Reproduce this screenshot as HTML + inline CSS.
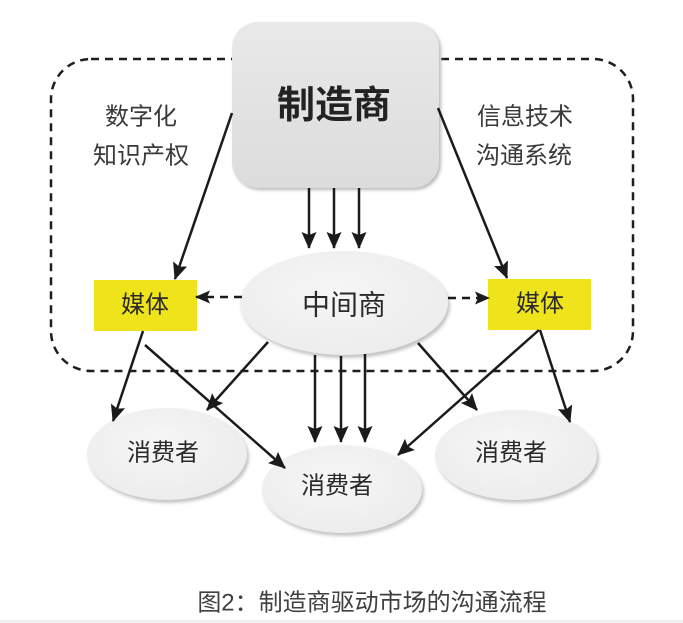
<!DOCTYPE html>
<html>
<head>
<meta charset="utf-8">
<style>
  html,body{margin:0;padding:0;background:#fff;}
  body{width:683px;height:623px;overflow:hidden;}
  svg{display:block;}
  text{font-family:"Liberation Sans","Noto Sans CJK SC",sans-serif;}
</style>
</head>
<body>
<svg width="683" height="623" viewBox="0 0 683 623" xmlns="http://www.w3.org/2000/svg">
  <defs>
    <marker id="ah" markerUnits="userSpaceOnUse" markerWidth="18" markerHeight="16" refX="16" refY="7.5" orient="auto">
      <path d="M0,0 L17,7.5 L0,15 L3,7.5 z" fill="#1b1b1b"/>
    </marker>
    <marker id="ahs" markerUnits="userSpaceOnUse" markerWidth="16" markerHeight="14" refX="14" refY="6.5" orient="auto">
      <path d="M0,0 L15,6.5 L0,13 L3,6.5 z" fill="#1b1b1b"/>
    </marker>
    <linearGradient id="boxg" x1="0" y1="0" x2="0" y2="1">
      <stop offset="0" stop-color="#e9e9e9"/>
      <stop offset="1" stop-color="#dcdcdc"/>
    </linearGradient>
    <radialGradient id="ellg" cx="0.45" cy="0.4" r="0.65">
      <stop offset="0" stop-color="#f6f6f6"/>
      <stop offset="1" stop-color="#ececec"/>
    </radialGradient>
    <filter id="blur" x="-20%" y="-20%" width="140%" height="140%">
      <feGaussianBlur stdDeviation="1.5"/>
    </filter>
  </defs>

  <!-- dashed rounded region -->
  <rect x="51" y="59" width="582" height="312" rx="40" ry="40" fill="none" stroke="#1e1e1e" stroke-width="2.5" stroke-dasharray="8,6"/>

  <!-- manufacturer box -->
  <rect x="234" y="24" width="207" height="166" rx="26" ry="26" fill="#b9b9b9" filter="url(#blur)"/>
  <rect x="232" y="22" width="207" height="166" rx="26" ry="26" fill="url(#boxg)"/>
  <text x="334" y="106" font-size="38" font-weight="bold" fill="#222" text-anchor="middle" dominant-baseline="central">制造商</text>

  <!-- side labels -->
  <text x="141" y="117" font-size="24" fill="#3a3a3a" text-anchor="middle" dominant-baseline="central">数字化</text>
  <text x="141" y="156" font-size="24" fill="#3a3a3a" text-anchor="middle" dominant-baseline="central">知识产权</text>
  <text x="525" y="117" font-size="24" fill="#3a3a3a" text-anchor="middle" dominant-baseline="central">信息技术</text>
  <text x="524" y="156" font-size="24" fill="#3a3a3a" text-anchor="middle" dominant-baseline="central">沟通系统</text>

  <!-- middleman ellipse -->
  <ellipse cx="346" cy="306" rx="104" ry="52" fill="#c4c4c4" filter="url(#blur)"/>
  <ellipse cx="344" cy="303" rx="104" ry="52" fill="url(#ellg)"/>
  <text x="344" y="305" font-size="28" fill="#2a2a2a" text-anchor="middle" dominant-baseline="central">中间商</text>

  <!-- media boxes -->
  <rect x="94" y="280" width="103" height="51" fill="#efe31c"/>
  <text x="145" y="305" font-size="24" fill="#2a2a2a" text-anchor="middle" dominant-baseline="central">媒体</text>
  <rect x="488" y="279" width="103" height="51" fill="#efe31c"/>
  <text x="540" y="304" font-size="24" fill="#2a2a2a" text-anchor="middle" dominant-baseline="central">媒体</text>

  <!-- consumers -->
  <ellipse cx="169" cy="457" rx="80" ry="46" fill="#c4c4c4" filter="url(#blur)"/>
  <ellipse cx="167" cy="454" rx="80" ry="46" fill="url(#ellg)"/>
  <text x="163" y="453" font-size="24" fill="#2a2a2a" text-anchor="middle" dominant-baseline="central">消费者</text>

  <ellipse cx="518" cy="458" rx="81" ry="45" fill="#c4c4c4" filter="url(#blur)"/>
  <ellipse cx="516" cy="455" rx="81" ry="45" fill="url(#ellg)"/>
  <text x="511" y="453" font-size="24" fill="#2a2a2a" text-anchor="middle" dominant-baseline="central">消费者</text>

  <ellipse cx="344" cy="492" rx="80" ry="44" fill="#c4c4c4" filter="url(#blur)"/>
  <ellipse cx="342" cy="489" rx="80" ry="44" fill="url(#ellg)"/>
  <text x="337" y="486" font-size="24" fill="#2a2a2a" text-anchor="middle" dominant-baseline="central">消费者</text>

  <!-- connectors -->
  <g stroke="#1b1b1b" stroke-width="2.5" fill="none">
    <line x1="232" y1="113" x2="175" y2="279" marker-end="url(#ah)"/>
    <line x1="438" y1="108" x2="507" y2="278" marker-end="url(#ah)"/>
    <line x1="309" y1="188" x2="309" y2="248" marker-end="url(#ah)"/>
    <line x1="334" y1="188" x2="334" y2="248" marker-end="url(#ah)"/>
    <line x1="359" y1="188" x2="359" y2="248" marker-end="url(#ah)"/>

    <line x1="242" y1="297" x2="196" y2="297" stroke-dasharray="8,6" marker-end="url(#ahs)"/>
    <line x1="448" y1="298" x2="489" y2="298" stroke-dasharray="8,6" marker-end="url(#ahs)"/>

    <line x1="143" y1="331" x2="113" y2="421" marker-end="url(#ah)"/>
    <line x1="145" y1="345" x2="285" y2="468" marker-end="url(#ah)"/>
    <line x1="268" y1="342" x2="207" y2="410" marker-end="url(#ah)"/>

    <line x1="315" y1="355" x2="315" y2="442" marker-end="url(#ah)"/>
    <line x1="341" y1="356" x2="341" y2="442" marker-end="url(#ah)"/>
    <line x1="365" y1="354" x2="365" y2="442" marker-end="url(#ah)"/>

    <line x1="418" y1="343" x2="477" y2="410" marker-end="url(#ah)"/>
    <line x1="539" y1="330" x2="398" y2="455" marker-end="url(#ah)"/>
    <line x1="540" y1="330" x2="570" y2="422" marker-end="url(#ah)"/>
  </g>

  <!-- caption -->
  <text x="372" y="603" font-size="24" fill="#404040" text-anchor="middle" dominant-baseline="central">图2：制造商驱动市场的沟通流程</text>
  <rect x="0" y="620" width="683" height="3" fill="#f0f0f0"/>
</svg>
</body>
</html>
